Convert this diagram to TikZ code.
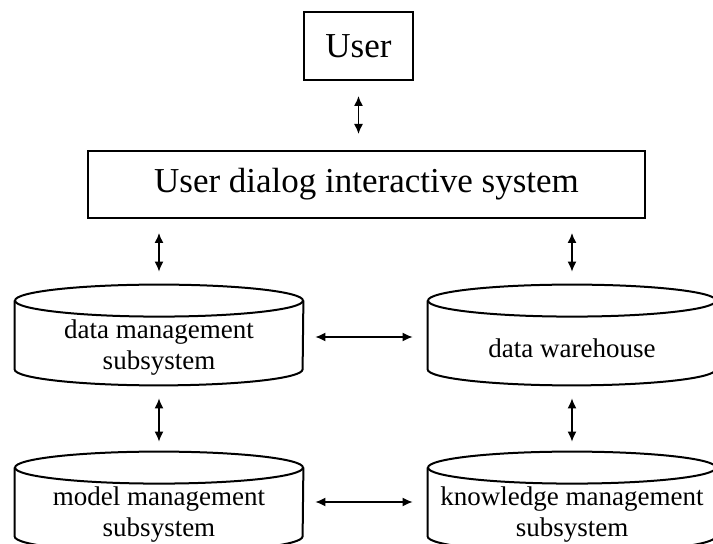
\documentclass[tikz,border=0pt]{standalone}
\usepackage{fontspec}
\setmainfont{Liberation Serif}
\usetikzlibrary{arrows.meta}

% cylinder outline round a store node (node = lower body of the cylinder)
\newcommand{\dbshape}[1]{%
  \draw [dbline] ([yshift=5pt]#1.north) ellipse [x radius=72pt, y radius=8pt];
  \draw [dbline] ([yshift=5pt]#1.north west) -- ([yshift=8pt]#1.south west)
    arc [start angle=180, end angle=360, x radius=72pt, y radius=8pt]
    -- ([yshift=5pt]#1.north east);
}

\begin{document}
\begin{tikzpicture}[x=0.5pt, y=-0.5pt,
    box/.style={draw, line width=1pt, inner sep=0pt, font=\fontsize{17.5}{20}\selectfont},
    db/.style={inner sep=2pt, minimum width=144pt, minimum height=37pt, align=center,
      font=\fontsize{13.5}{15.5}\selectfont},
    dbline/.style={line width=1pt},
    link/.style={{Latex[length=5pt,width=4.5pt]}-{Latex[length=5pt,width=4.5pt]}, line width=0.7pt}]
  \useasboundingbox (0,0) rectangle (713,544);
  \clip (0,0) rectangle (713,544);

  % top part
  \node [box, minimum width=54.5pt, minimum height=34pt] (user) at (358.5,46) {User};
  \node [box, minimum width=278.5pt, minimum height=33.5pt] (dialog) at (366.5,184.5) {User dialog interactive system};

  % stores
  \node [db] (datamgmt) at (159,348) {data management\\subsystem};
  \node [db] (warehouse) at (572,348) {data warehouse};
  \node [db] (modelmgmt) at (159,515) {model management\\subsystem};
  \node [db] (knowmgmt) at (572,515) {knowledge management\\subsystem};
  \dbshape{datamgmt}
  \dbshape{warehouse}
  \dbshape{modelmgmt}
  \dbshape{knowmgmt}

  % links
  \draw [link, shorten <=7.5pt, shorten >=8pt] (user.south) -- (user.south |- dialog.north);
  \draw [link, shorten <=7pt, shorten >=19.5pt] (dialog.south -| datamgmt.north) -- (datamgmt.north);
  \draw [link, shorten <=7pt, shorten >=19.5pt] (dialog.south -| warehouse.north) -- (warehouse.north);
  \draw [link, shorten <=6pt, shorten >=7.5pt] ([yshift=5.5pt]datamgmt.east) -- ([yshift=5.5pt]warehouse.west);
  \draw [link, shorten <=6.5pt, shorten >=18pt] (datamgmt.south) -- (modelmgmt.north);
  \draw [link, shorten <=6.5pt, shorten >=18pt] (warehouse.south) -- (knowmgmt.north);
  \draw [link, shorten <=6pt, shorten >=7.5pt] ([yshift=6.5pt]modelmgmt.east) -- ([yshift=6.5pt]knowmgmt.west);
\end{tikzpicture}
\end{document}
